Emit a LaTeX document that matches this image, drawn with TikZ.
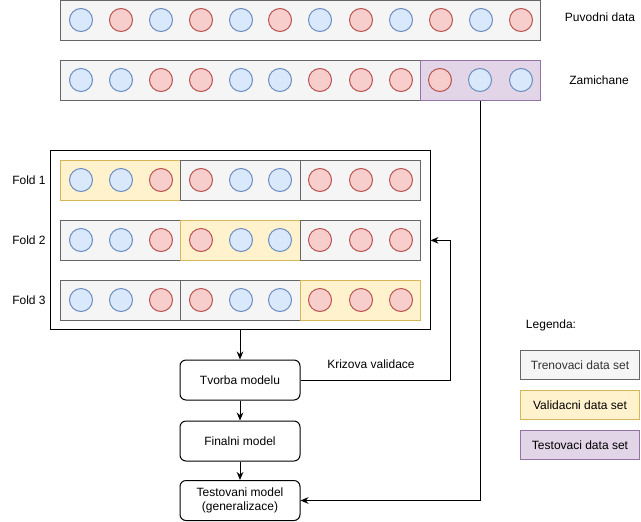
\documentclass[tikz,border=0pt]{standalone}
\usepackage{fontspec}
\setmainfont{Liberation Sans}
\usetikzlibrary{arrows.meta}

\definecolor{trainfill}{HTML}{F5F5F5}
\definecolor{trainline}{HTML}{666666}
\definecolor{validfill}{HTML}{FFF2CC}
\definecolor{validline}{HTML}{D6B656}
\definecolor{testfill}{HTML}{E1D5E7}
\definecolor{testline}{HTML}{9673A6}
\definecolor{bluefill}{HTML}{DAE8FC}
\definecolor{blueline}{HTML}{6C8EBF}
\definecolor{redfill}{HTML}{F8CECC}
\definecolor{redline}{HTML}{B85450}
\definecolor{textgray}{HTML}{333333}

\tikzset{
  dataset/.style={minimum height=30pt, inner sep=0pt, line width=0.75pt},
  trainset/.style={dataset, draw=trainline, fill=trainfill},
  validset/.style={dataset, draw=validline, fill=validfill},
  testset/.style={dataset, draw=testline, fill=testfill},
  ballbase/.style={circle, minimum size=17.25pt, inner sep=0pt, line width=0.75pt},
  blueball/.style={ballbase, draw=blueline, fill=bluefill},
  redball/.style={ballbase, draw=redline, fill=redfill},
  modelbox/.style={draw, rounded corners=4.5pt, minimum width=90pt, minimum height=30pt, align=center},
  legendbox/.style={minimum width=89pt, minimum height=22pt}
}

\begin{document}
\begin{tikzpicture}[x=0.75pt, y=-0.75pt, >={Stealth[length=6pt,width=5pt]}, font=\fontsize{9pt}{10.5pt}\selectfont, line width=0.75pt]
%		\draw [help lines, step=20] (0,0) grid (641,521);
		\useasboundingbox (0,0) rectangle (641,521);
		% puvodni a zamichana data
		\node [trainset, minimum width=360pt] (orig) at (300,20) {};
		\foreach \x/\col [count=\i] in {81/blue,121/red,161/blue,201/red,241/blue,280/red,320/blue,361/red,401/blue,441/red,481/blue,521/red}
			\node [\col ball] (o\i) at (\x,20) {};
		\node [trainset, minimum width=270pt] (shuf) at (240,80) {};
		\node [testset, minimum width=90pt] (shuftest) at (480,80) {};
		\foreach \x/\col [count=\i] in {81/blue,121/blue,161/red,201/red,241/blue,280/blue,320/red,361/red,401/red,440/red,480/blue,521/blue}
			\node [\col ball] (z\i) at (\x,80) {};
		\node (puvodni) at (600,17) {Puvodni data};
		\node (zamichane) at (599,80) {Zamichane};
		% foldy
		\node [draw, minimum width=285pt, minimum height=134.25pt, inner sep=0pt] (folds) at (240,240.35) {};
		\foreach \k/\y in {1/180,2/240,3/300} {
			\node (fold\k) at (29,\y) {Fold \k};
			\foreach \s/\sx in {1/120,2/240,3/360} {
				\ifnum\s=\k \def\seg{validset}\else\def\seg{trainset}\fi
				\node [\seg, minimum width=90pt] (f\k s\s) at (\sx,\y) {};
			}
			\foreach \x/\col [count=\i] in {81/blue,121/blue,161/red,201/red,241/blue,280/blue,320/red,361/red,401/red}
				\node [\col ball] (f\k b\i) at (\x,\y) {};
		}
		% model
		\node [modelbox] (tvorba) at (240,380) {Tvorba modelu};
		\node [modelbox] (finalni) at (240,441) {Finalni model};
		\node [modelbox] (testovani) at (240,500.5) {Testovani model\\(generalizace)};
		\draw [->] (folds) -- (tvorba);
		\draw [->] (tvorba) -- (finalni);
		\draw [->] (finalni) -- (testovani);
		\coordinate (cvturn) at (450,380);
		\draw [->] (tvorba.east) -- (cvturn) |- (folds.east);
		\node (krizova) at (371,364) {Krizova validace};
		\draw [->] (shuftest.south) |- (testovani.east);
		% legenda
		\node (legenda) at (551,325) {Legenda:};
		\node [trainset, legendbox, text=textgray] (legtrain) at (580,365) {Trenovaci data set};
		\node [validset, legendbox] (legvalid) at (580,405) {Validacni data set};
		\node [testset, legendbox] (legtest) at (580,445) {Testovaci data set};
\end{tikzpicture}
\end{document}
